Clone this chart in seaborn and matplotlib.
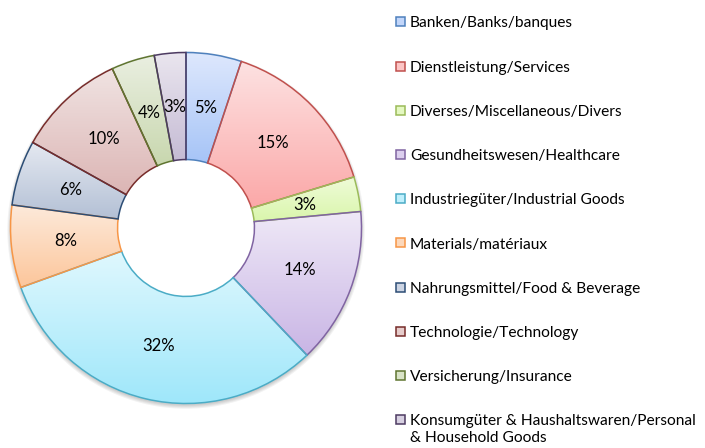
import numpy as np
import matplotlib.pyplot as plt
import seaborn as sns
from matplotlib.patches import Rectangle, Wedge
from matplotlib.colors import LinearSegmentedColormap

# sector shares (percent), read from the donut, clockwise from 12 o'clock
sectors = [
    "Banken/Banks/banques",
    "Dienstleistung/Services",
    "Diverses/Miscellaneous/Divers",
    "Gesundheitswesen/Healthcare",
    "Industriegüter/Industrial Goods",
    "Materials/matériaux",
    "Nahrungsmittel/Food & Beverage",
    "Technologie/Technology",
    "Versicherung/Insurance",
    "Konsumgüter & Haushaltswaren/Personal\n& Household Goods",
]
shares = [5.1, 15.2, 3.2, 14.4, 31.6, 7.6, 6.0, 10.0, 4.0, 2.9]

edge_colors = ["#4f81bd", "#c0504d", "#9bbb59", "#8064a2", "#4bacc6",
               "#f79646", "#2c4d75", "#772c2a", "#5f7530", "#4d3b62"]
top_colors = ["#dee8fd", "#fde2e2", "#effbd8", "#efe9f7", "#e0f8fe",
              "#fdeadb", "#e5e9f1", "#f0e3e2", "#eaefe1", "#eae6ef"]
bottom_colors = ["#a6c4f7", "#fba8a8", "#d9f6ab", "#c9b5e5", "#9fe7fa",
                 "#fcc69b", "#b3c0d5", "#dcb5b4", "#c8d7ae", "#c5bbd4"]

sns.set_style("white")
plt.rcParams["font.family"] = ["Lato", "DejaVu Sans"]

W, H = 705, 448
fig = plt.figure(figsize=(W / 100, H / 100), dpi=100)

# donut: centre (186, 228) px, outer radius 175.5 px
cx, cy, R = 186, 228, 175.5
lim = 1.03
half = R * lim
ax = fig.add_axes([(cx - half) / W, (H - cy - half) / H, 2 * half / W, 2 * half / H])

wedges, texts, autotexts = ax.pie(
    shares, startangle=90, counterclock=False, radius=1,
    autopct="%.0f%%", pctdistance=0.69,
    wedgeprops=dict(width=0.61, linewidth=1.1),
    textprops=dict(fontsize=12, color="black"),
)

grad = np.linspace(0, 1, 256).reshape(-1, 1)
for w, top, bot, ec in zip(wedges, top_colors, bottom_colors, edge_colors):
    w.set_facecolor("none")
    w.set_edgecolor(ec)
    w.set_zorder(3)
    bb = w.get_path().get_extents()
    cmap = LinearSegmentedColormap.from_list("g", [top, bot])
    im = ax.imshow(grad, cmap=cmap, extent=[bb.x0, bb.x1, bb.y0, bb.y1],
                   origin="upper", aspect="auto", zorder=2, interpolation="bilinear")
    im.set_clip_path(w)

for t in autotexts:
    t.set_zorder(4)

# soft shadow under the ring
for k in range(4):
    ax.add_patch(Wedge((0, -0.012), 1.0 + 0.006 * k, 0, 360, width=0.3,
                       facecolor="#000000", edgecolor="none", alpha=0.05, zorder=1))

ax.set_xlim(-lim, lim)
ax.set_ylim(-lim, lim)
ax.set_aspect("equal")
ax.axis("off")

# legend on the right
row0, step = 22, 44.2
for i, (label, top, bot, ec) in enumerate(zip(sectors, top_colors, bottom_colors, edge_colors)):
    yc = row0 + i * step
    mid = LinearSegmentedColormap.from_list("m", [top, bot])(0.5)
    fig.patches.append(Rectangle((396 / W, 1 - (yc + 4.5) / H), 9 / W, 9 / H,
                                 transform=fig.transFigure, facecolor=mid,
                                 edgecolor=ec, linewidth=1.1))
    fig.text(410 / W, 1 - (yc - 5.5) / H, label, fontsize=11.2, va="top", ha="left",
             color="black", linespacing=1.25)

fig.savefig("out.png", dpi=100)
